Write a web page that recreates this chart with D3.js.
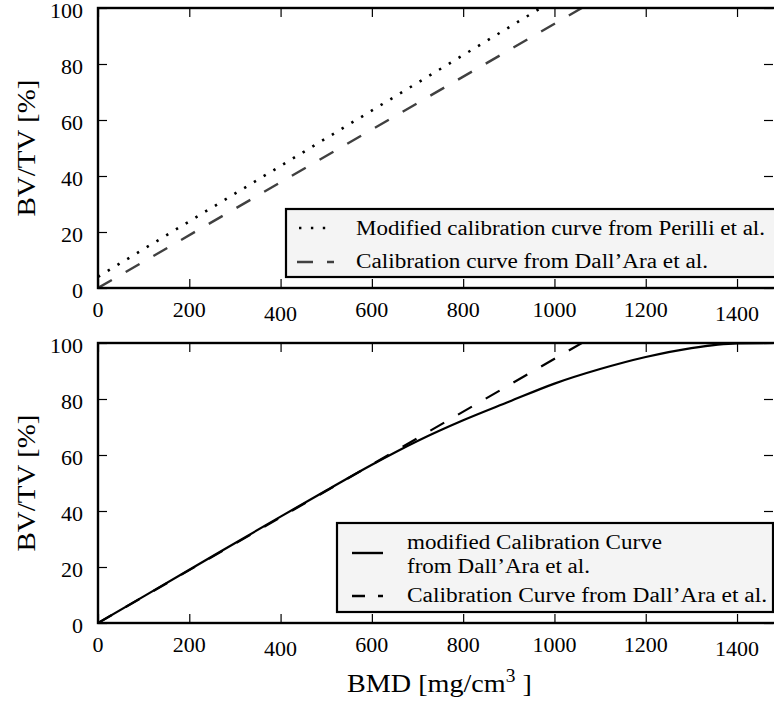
<!DOCTYPE html>
<html>
<head>
<meta charset="utf-8">
<script src="https://cdn.jsdelivr.net/npm/d3@7"></script>
<style>
  body { margin: 0; background: #fff; }
  svg { display: block; }
</style>
</head>
<body>
<svg id="chart" width="774" height="704" font-family="'Liberation Serif', 'Times New Roman', serif"></svg>
<script>
// tick values
const bmdTicks = [0, 200, 400, 600, 800, 1000, 1200, 1400];
const bvtvTicks = [0, 20, 40, 60, 80, 100];

// curves (BMD [mg/cm3], BV/TV [%])
const perilliBmd = [0, 970];
const perilliBvtv = [4, 100];
const dallAraBmd = [0, 1060];
const dallAraBvtv = [0, 100];
const modifiedBmd = [0, 200, 400, 500, 600, 700, 800, 900, 1000, 1100, 1200, 1300, 1400, 1480];
const modifiedBvtv = [0, 19, 38, 47.3, 56.5, 65, 72.4, 79, 85.5, 90.7, 95, 98.2, 99.9, 100];

const topLegend = ["Modified calibration curve from Perilli et al.", "Calibration curve from Dall\u2019Ara et al."];
const bottomLegend = [["modified Calibration Curve", "from Dall\u2019Ara et al."], ["Calibration Curve from Dall\u2019Ara et al."]];

const serif = "'Liberation Serif', 'Times New Roman', serif";
const svg = d3.select("#chart");
const left = 98, right = 774;

let x = d3.scaleLinear().domain([0, 1481]).range([left, right]);

let pairs = (xs, ys) => xs.map((v, i) => [v, ys[i]]);

// draws one panel, returns its y scale and group
function panel(top, bottom, id) {
  let y = d3.scaleLinear().domain([0, 100]).range([bottom, top]);
  let g = svg.append("g");

  g.append("clipPath").attr("id", id)
    .append("rect")
    .attr("x", left).attr("y", top)
    .attr("width", right - left).attr("height", bottom - top);

  // inward ticks on all four sides
  g.append("g").attr("transform", `translate(0,${bottom})`)
    .call(d3.axisTop(x).tickValues(bmdTicks).tickSize(9).tickFormat(""));
  g.append("g").attr("transform", `translate(0,${top})`)
    .call(d3.axisBottom(x).tickValues(bmdTicks).tickSize(9).tickFormat(""));
  g.append("g").attr("transform", `translate(${left},0)`)
    .call(d3.axisRight(y).tickValues(bvtvTicks).tickSize(9).tickFormat(""));
  g.append("g").attr("transform", `translate(${right - 1},0)`)
    .call(d3.axisLeft(y).tickValues(bvtvTicks).tickSize(9).tickFormat(""));
  g.selectAll(".domain").remove();
  g.selectAll(".tick line").attr("stroke", "#000").attr("stroke-width", 1.2);

  // tick labels (usetex puts some a little lower)
  g.selectAll(".xl").data(bmdTicks).enter().append("text")
    .attr("x", d => x(d))
    .attr("y", d => bottom + 29 + (d === 400 || d === 1400 ? 4 : 0))
    .attr("text-anchor", "middle")
    .attr("font-family", serif)
    .attr("font-size", 22)
    .text(d => d);

  g.selectAll(".yl").data(bvtvTicks).enter().append("text")
    .attr("x", 83)
    .attr("y", d => y(d) + 10)
    .attr("text-anchor", "end")
    .attr("font-family", serif)
    .attr("font-size", 22)
    .text(d => d);

  g.append("text")
    .attr("transform", `translate(35,${(top + bottom) / 2}) rotate(-90)`)
    .attr("text-anchor", "middle")
    .attr("font-family", serif)
    .attr("font-size", 26)
    .attr("textLength", 137)
    .attr("lengthAdjust", "spacingAndGlyphs")
    .text("BV/TV [%]");

  return { y: y, g: g, top: top, bottom: bottom, id: id };
}

function frame(p) {
  p.g.append("rect")
    .attr("x", left).attr("y", p.top)
    .attr("width", right - left + 2).attr("height", p.bottom - p.top)
    .attr("fill", "none").attr("stroke", "#000").attr("stroke-width", 2.4);
}

function curve(p, data, opts) {
  let line = d3.line().x(d => x(d[0])).y(d => p.y(d[1])).curve(d3.curveMonotoneX);
  p.g.append("path")
    .datum(data)
    .attr("clip-path", `url(#${p.id})`)
    .attr("d", line)
    .attr("fill", "none")
    .attr("stroke", opts.color || "#000")
    .attr("stroke-width", opts.width || 2.2)
    .attr("stroke-dasharray", opts.dash || null);
}

function legendBox(p, bx, by, bw, bh) {
  p.g.append("rect")
    .attr("x", bx).attr("y", by).attr("width", bw).attr("height", bh)
    .attr("fill", "#f4f4f4").attr("stroke", "#000").attr("stroke-width", 2.2);
}

function legendText(p, tx, ty, str, width) {
  let t = p.g.append("text")
    .attr("x", tx).attr("y", ty)
    .attr("font-family", serif)
    .attr("font-size", 20)
    .text(str);
  if (width) t.attr("textLength", width).attr("lengthAdjust", "spacingAndGlyphs");
  return t;
}

function legendHandle(p, x1, x2, yy, opts) {
  p.g.append("line")
    .attr("x1", x1).attr("x2", x2).attr("y1", yy).attr("y2", yy)
    .attr("stroke", opts.color || "#000")
    .attr("stroke-width", opts.width || 2.4)
    .attr("stroke-dasharray", opts.dash || null);
}

// ---- top panel
let p1 = panel(8, 288, "clipTop");
curve(p1, pairs(perilliBmd, perilliBvtv), { dash: "2.4,9", width: 2.6 });
curve(p1, pairs(dallAraBmd, dallAraBvtv), { dash: "16,16", color: "#404040", width: 2.4 });
frame(p1);

legendBox(p1, 286, 209, 490, 68);
legendHandle(p1, 299, 334, 228, { dash: "2.4,9.5", width: 2.6 });
legendHandle(p1, 297, 334, 262, { dash: "16,14", color: "#404040" });
legendText(p1, 356, 235, topLegend[0], 409);
legendText(p1, 356, 268, topLegend[1], 352);

// ---- bottom panel
let p2 = panel(343, 623, "clipBottom");
curve(p2, pairs(dallAraBmd, dallAraBvtv), { dash: "16,16" });
curve(p2, pairs(modifiedBmd, modifiedBvtv), {});
frame(p2);

legendBox(p2, 337, 523, 436, 89);
legendHandle(p2, 352, 383, 553, {});
legendHandle(p2, 352, 383, 596, { dash: "13,13" });
legendText(p2, 407, 549, bottomLegend[0][0], 255);
legendText(p2, 407, 573, bottomLegend[0][1], 183);
legendText(p2, 407, 602, bottomLegend[1][0], 360);

// x axis label with superscript, stretched to the width of the original
let xl = svg.append("text")
  .attr("x", 0).attr("y", 0)
  .attr("font-family", serif)
  .attr("font-size", 26);
xl.append("tspan").text("BMD [mg/cm");
xl.append("tspan").attr("dy", -10).attr("font-size", 18).text("3");
xl.append("tspan").attr("dy", 10).text(" ]");
let xlw = xl.node().getBBox().width;
xl.attr("transform", `translate(347,692) scale(${185 / xlw},1)`);
</script>
</body>
</html>
